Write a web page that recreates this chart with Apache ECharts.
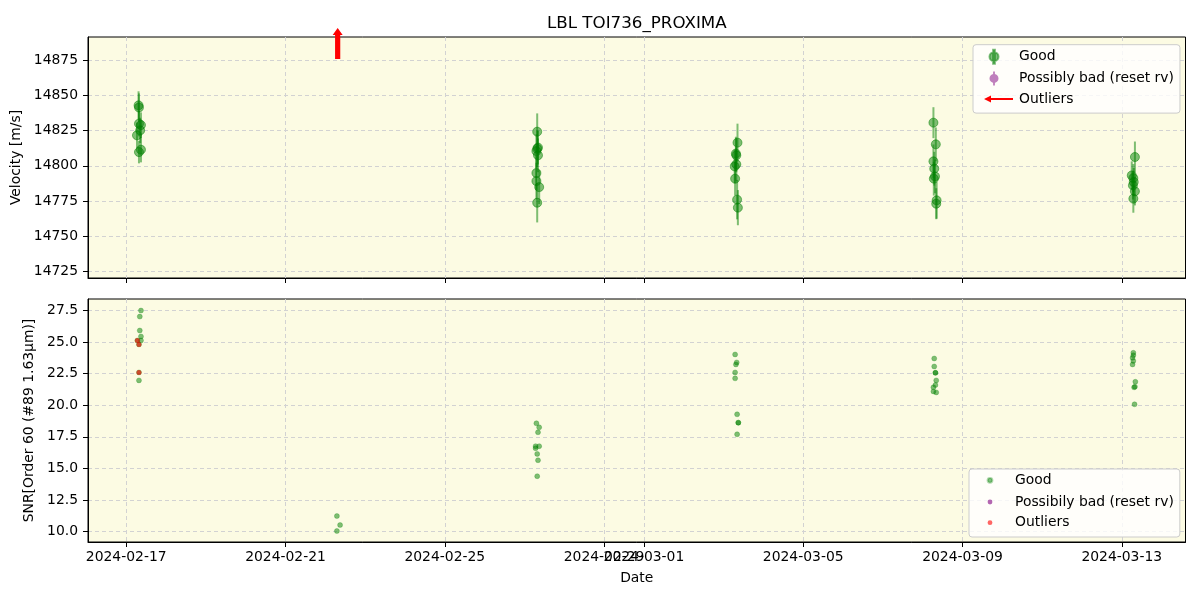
<!DOCTYPE html>
<html><head><meta charset="utf-8">
<script src="https://cdn.jsdelivr.net/npm/echarts@6/dist/echarts.min.js"></script>
<style>html,body{margin:0;padding:0;background:#fff}#c{width:1200px;height:600px}</style>
</head><body><div id="c"></div>
<script>
// ---------------- data ----------------
const rvTime = [
 '2024-02-17T07:26','2024-02-17T07:41','2024-02-17T07:41','2024-02-17T08:53','2024-02-17T08:24','2024-02-17T06:29','2024-02-17T08:53','2024-02-17T07:41',
 '2024-02-27T07:41','2024-02-27T08:10','2024-02-27T07:41','2024-02-27T07:12','2024-02-27T08:10','2024-02-27T07:12','2024-02-27T07:12','2024-02-27T08:53','2024-02-27T07:41',
 '2024-03-03T08:24','2024-03-03T07:26','2024-03-03T07:41','2024-03-03T07:41','2024-03-03T06:43','2024-03-03T06:58','2024-03-03T08:10','2024-03-03T08:38',
 '2024-03-08T06:29','2024-03-08T07:55','2024-03-08T06:29','2024-03-08T06:58','2024-03-08T07:26','2024-03-08T06:43','2024-03-08T08:24','2024-03-08T08:10',
 '2024-03-13T07:55','2024-03-13T06:00','2024-03-13T06:58','2024-03-13T07:12','2024-03-13T06:43','2024-03-13T07:55','2024-03-13T06:58'
];
const rvValue = [
 14843.0,14841.5,14830.0,14829.0,14825.2,14821.7,14811.5,14809.8,
 14824.3,14813.0,14812.2,14810.5,14807.5,14794.9,14789.2,14784.9,14773.8,
 14816.5,14808.7,14807.5,14801.1,14799.6,14790.9,14776.0,14770.3,
 14830.7,14815.3,14803.2,14798.0,14792.5,14790.9,14775.5,14773.1,
 14806.3,14793.2,14791.3,14788.5,14786.1,14781.9,14776.7
];
const rvError = [
 10,10,9,9,9,9,9,8,
 13,12,13,12,12,12,13,12,14,
 13.5,12,12,12,12,12,14,12.5,
 11,12,12,12,12,12,13,11,
 11,10,10,10,10,10,10
];
const snrTime = [
 '2024-02-17T08:53','2024-02-17T08:10','2024-02-17T08:10','2024-02-17T08:53','2024-02-17T08:53','2024-02-17T06:43','2024-02-17T07:41','2024-02-17T07:41','2024-02-17T07:41',
 '2024-02-22T06:58','2024-02-22T08:53','2024-02-22T06:58',
 '2024-02-27T07:12','2024-02-27T08:53','2024-02-27T08:10','2024-02-27T06:43','2024-02-27T08:53','2024-02-27T06:43','2024-02-27T07:41','2024-02-27T08:10','2024-02-27T07:41',
 '2024-03-03T06:58','2024-03-03T07:55','2024-03-03T07:26','2024-03-03T06:58','2024-03-03T06:58','2024-03-03T08:10','2024-03-03T08:53','2024-03-03T08:53','2024-03-03T08:10',
 '2024-03-08T06:58','2024-03-08T06:58','2024-03-08T07:41','2024-03-08T07:41','2024-03-08T08:10','2024-03-08T07:41','2024-03-08T06:29','2024-03-08T06:29','2024-03-08T08:10',
 '2024-03-13T06:58','2024-03-13T06:58','2024-03-13T06:29','2024-03-13T06:58','2024-03-13T06:29','2024-03-13T08:10','2024-03-13T07:55','2024-03-13T07:26','2024-03-13T07:41'
];
const snrValue = [
 27.48,27.00,25.90,25.43,25.11,25.11,24.80,22.59,21.96,
 11.24,10.53,10.06,
 18.57,18.25,17.86,16.76,16.76,16.60,16.15,15.65,14.39,
 24.01,23.38,23.22,22.59,22.12,19.28,18.62,18.62,17.70,
 23.69,23.06,22.56,22.56,21.96,21.59,21.41,21.09,21.01,
 24.14,23.95,23.74,23.50,23.22,21.85,21.46,21.41,20.07
];
const outlierSnrTime = ['2024-02-17T06:43','2024-02-17T07:41','2024-02-17T07:41'];
const outlierSnrValue = [25.11,24.80,22.59];
const outlierRvTime = ['2024-02-22T07:26'];   // off-scale (above the axis), drawn as an arrow at the top edge

const xTickLabels = ['2024-02-17','2024-02-21','2024-02-25','2024-02-29','2024-03-01','2024-03-05','2024-03-09','2024-03-13'];
const rvTicks = [14725,14750,14775,14800,14825,14850,14875];
const snrTicks = [10.0,12.5,15.0,17.5,20.0,22.5,25.0,27.5];
const xRange = ['2024-02-16T00:58','2024-03-14T14:24'];
const rvRange = [14720.3,14891.6];
const snrRange = [9.19,28.39];

// ---------------- chart ----------------
const T = s => Date.parse((s.length === 10 ? s + 'T00:00' : s) + 'Z');
const xTickVals = xTickLabels.map(T);
const FONT = 'DejaVu Sans';
const FS = 13.9;
const GRIDC = '#d2d2d2';

const goodRv = rvTime.map((t, i) => [T(t), rvValue[i]]);
const errRv = rvTime.map((t, i) => [T(t), rvValue[i] - rvError[i], rvValue[i] + rvError[i]]);
const goodSnr = snrTime.map((t, i) => [T(t), snrValue[i]]);
const outSnr = outlierSnrTime.map((t, i) => [T(t), outlierSnrValue[i]]);
const outRv = outlierRvTime.map(t => [T(t), rvRange[1]]);

function xAxis(gridIndex, showLabels, name) {
  return {
    type: 'value', gridIndex, min: T(xRange[0]), max: T(xRange[1]),
    name: name || '', nameLocation: 'middle', nameGap: 29,
    nameTextStyle: {fontFamily: FONT, fontSize: FS, color: '#000'},
    axisLine: {show: true, onZero: false, lineStyle: {color: '#000', width: 1}},
    axisTick: {show: true, customValues: xTickVals, length: 5, lineStyle: {color: '#000'}},
    axisLabel: {show: showLabels, customValues: xTickVals, interval: 0, hideOverlap: false, margin: 8,
      fontFamily: FONT, fontSize: FS, color: '#000',
      formatter: v => new Date(v).toISOString().slice(0, 10)},
    splitLine: {show: true, lineStyle: {color: GRIDC, type: [4, 3], width: 1}},
    minorTick: {show: false}
  };
}
function yAxis(gridIndex, range, ticks, name, nameGap, dec) {
  return {
    type: 'value', gridIndex, min: range[0], max: range[1],
    name, nameLocation: 'middle', nameGap,
    nameTextStyle: {fontFamily: FONT, fontSize: FS, color: '#000'},
    axisLine: {show: true, onZero: false, lineStyle: {color: '#000', width: 1}},
    axisTick: {show: true, customValues: ticks, length: 5, lineStyle: {color: '#000'}},
    axisLabel: {customValues: ticks, margin: 10, fontFamily: FONT, fontSize: FS, color: '#000',
      formatter: v => Number(v).toFixed(dec)},
    splitLine: {show: true, lineStyle: {color: GRIDC, type: [4, 3], width: 1}}
  };
}

const iconGoodTop = 'path://M0,0 M30,14 M9.1,0 L10.9,0 L10.9,14 L9.1,14 Z M10,2.5 A4.5,4.5 0 1 1 10,11.5 A4.5,4.5 0 1 1 10,2.5 Z';
const iconArrowLeft = 'path://M0,0 M30,14 M0,7 L7,3.5 L7,6 L29,6 L29,8 L7,8 L7,10.5 Z';
const iconDot = 'path://M0,0 M30,14 M10,4.6 A2.4,2.4 0 1 1 10,9.4 A2.4,2.4 0 1 1 10,4.6 Z';
const legendCommon = {
  orient: 'vertical', itemWidth: 30, itemHeight: 14, itemGap: 6.7, selectedMode: false,
  backgroundColor: 'rgba(255,255,255,0.8)', borderColor: '#cccccc', borderWidth: 1, borderRadius: 3,
  textStyle: {fontFamily: FONT, fontSize: FS, color: '#000', lineHeight: 14},
  formatter: n => n.trim()
};

const option = {
  animation: false,
  backgroundColor: '#fff',
  title: {text: 'LBL TOI736_PROXIMA', left: 547, top: 15, padding: 0,
    textStyle: {fontFamily: FONT, fontSize: 16.7, fontWeight: 'normal', color: '#000'}},
  grid: [
    {left: 88, right: 14.5, top: 37, height: 241, show: true, backgroundColor: '#fcfbe3', borderColor: '#000', borderWidth: 1},
    {left: 88, right: 14.5, top: 299, height: 243, show: true, backgroundColor: '#fcfbe3', borderColor: '#000', borderWidth: 1}
  ],
  xAxis: [xAxis(0, false), xAxis(1, true, 'Date')],
  yAxis: [
    yAxis(0, rvRange, rvTicks, 'Velocity [m/s]', 58, 0),
    yAxis(1, snrRange, snrTicks, 'SNR[Order 60 (#89 1.63μm)]', 47, 1)
  ],
  legend: [
    Object.assign({}, legendCommon, {left: 973, top: 44.7, padding: [4, 6, 7, 10],
      data: [
        {name: 'Good', icon: iconGoodTop},
        {name: 'Possibly bad (reset rv)', icon: iconGoodTop},
        {name: 'Outliers', icon: iconArrowLeft}
      ]}),
    Object.assign({}, legendCommon, {left: 969, top: 469, padding: [3.3, 6, 7.3, 10],
      data: [
        {name: 'Good ', icon: iconDot},
        {name: 'Possibily bad (reset rv)', icon: iconDot},
        {name: 'Outliers ', icon: iconDot}
      ]})
  ],
  series: [
    {name: 'Good errorbars', type: 'custom', xAxisIndex: 0, yAxisIndex: 0, data: errRv, z: 2,
      encode: {x: 0, y: [1, 2]},
      renderItem: (params, api) => {
        const p1 = api.coord([api.value(0), api.value(1)]);
        const p2 = api.coord([api.value(0), api.value(2)]);
        return {type: 'line', shape: {x1: p1[0], y1: p1[1], x2: p2[0], y2: p2[1]},
          style: {stroke: 'rgba(0,128,0,0.5)', lineWidth: 2}};
      }},
    {name: 'Good', type: 'scatter', xAxisIndex: 0, yAxisIndex: 0, data: goodRv, z: 3,
      symbol: 'circle', symbolSize: 9,
      itemStyle: {color: 'rgba(0,128,0,0.5)', borderColor: 'rgba(0,128,0,0.5)', borderWidth: 1, opacity: 1}},
    {name: 'Possibly bad (reset rv)', type: 'scatter', xAxisIndex: 0, yAxisIndex: 0, data: [],
      symbolSize: 9, itemStyle: {color: 'rgba(128,0,128,0.5)', opacity: 1}},
    {name: 'Outliers', type: 'scatter', xAxisIndex: 0, yAxisIndex: 0, data: outRv, z: 5, clip: false,
      symbol: 'path://M5,0 L10,7 L7.6,7 L7.6,31 L2.4,31 L2.4,7 L0,7 Z', symbolSize: [10, 31], symbolOffset: [0, 6.5],
      itemStyle: {color: '#ff0000', opacity: 1}},

    {name: 'Good ', type: 'scatter', xAxisIndex: 1, yAxisIndex: 1, data: goodSnr, z: 3,
      symbol: 'circle', symbolSize: 5,
      itemStyle: {color: 'rgba(0,128,0,0.5)', borderColor: 'rgba(0,128,0,0.3)', borderWidth: 0.8, opacity: 1}},
    {name: 'Possibily bad (reset rv)', type: 'scatter', xAxisIndex: 1, yAxisIndex: 1, data: [],
      symbolSize: 5, itemStyle: {color: 'rgba(128,0,128,0.6)', opacity: 1}},
    {name: 'Outliers ', type: 'scatter', xAxisIndex: 1, yAxisIndex: 1, data: outSnr, z: 4,
      symbol: 'circle', symbolSize: 5,
      itemStyle: {color: 'rgba(255,0,0,0.6)', opacity: 1}}
  ]
};
const chart = echarts.init(document.getElementById('c'), null, {renderer: 'canvas'});
chart.setOption(option);
</script>
</body></html>
